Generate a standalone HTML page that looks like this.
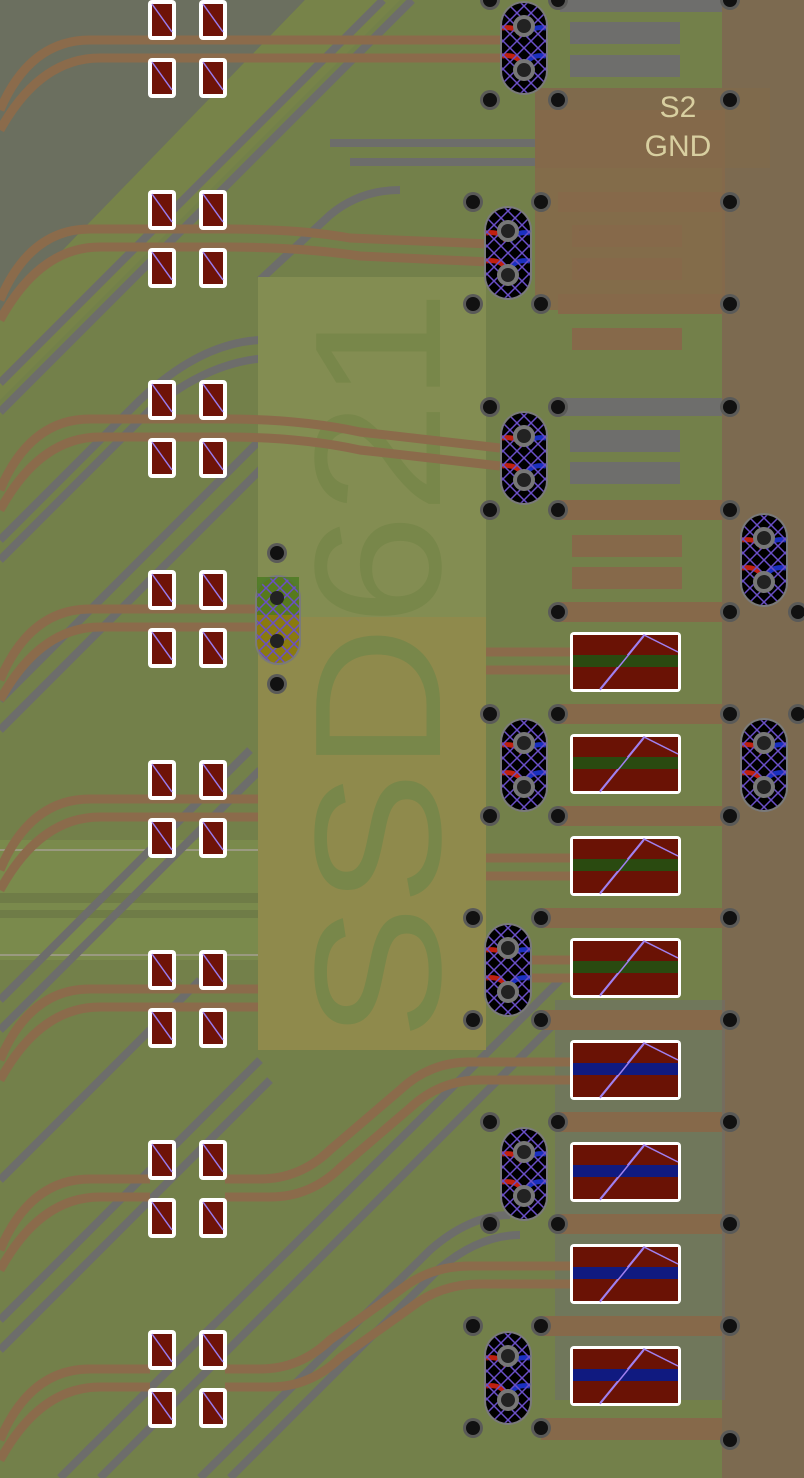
<!DOCTYPE html>
<html><head><meta charset="utf-8"><style>
html,body{margin:0;padding:0;background:#73804a;}
svg{display:block}
</style></head><body>
<svg width="804" height="1478" viewBox="0 0 804 1478" xmlns="http://www.w3.org/2000/svg">
<defs>
<pattern id="hatch" width="14" height="14" patternUnits="userSpaceOnUse">
<path d="M0 0L14 14M14 0L0 14" stroke="#6a4fc8" stroke-width="1.5"/>
</pattern>
<g id="sp">
<rect x="-14" y="-20" width="28" height="40" rx="4" fill="#fff"/>
<rect x="-10" y="-16" width="20" height="32" fill="#6e1308"/>
<path d="M-10 -16L10 12" stroke="#9a7cf0" stroke-width="1.5"/>
</g>
<g id="v"><circle r="10" fill="#5a5a58"/><circle r="7" fill="#111"/></g>
<g id="ov">
<rect x="-24" y="-47" width="48" height="94" rx="24" fill="#7a7a7a"/>
<rect x="-22" y="-45" width="44" height="90" rx="22" fill="#000"/>
<path d="M-22 -20q15 -2 20 8M-22 8q15 -2 20 8" stroke="#c02010" stroke-width="5" fill="none"/>
<path d="M22 -20q-15 -2 -20 8M22 8q-15 -2 -20 8" stroke="#1a30c0" stroke-width="5" fill="none"/>
<rect x="-22" y="-45" width="44" height="90" rx="22" fill="url(#hatch)"/>
<circle cy="-22" r="11" fill="#777"/><circle cy="-22" r="7" fill="#222"/>
<circle cy="22" r="11" fill="#777"/><circle cy="22" r="7" fill="#222"/>
</g>
<g id="bp">
<rect x="0" y="0" width="111" height="60" rx="4" fill="#fff"/>
<rect x="3" y="3" width="105" height="54" fill="#6a1205"/>
<path d="M30 57L74 3L108 20" stroke="#a080f0" stroke-width="1.5" fill="none"/>
</g>
</defs>

<rect width="804" height="1478" fill="#73804a"/>
<polygon points="0,0 305,0 0,315" fill="#6b6f5f"/>
<polygon points="305,0 400,0 0,400 0,315" fill="#778349"/>
<rect x="0" y="840" width="258" height="120" fill="#7a8a4c"/>
<rect x="0" y="893" width="258" height="10" fill="#6f7c47"/>
<rect x="0" y="910" width="258" height="8" fill="#6f7c47"/>
<line x1="0" y1="850" x2="258" y2="850" stroke="#9a9a80" stroke-width="2"/>
<line x1="0" y1="955" x2="258" y2="955" stroke="#9a9a80" stroke-width="2"/>

<g stroke="#6d6d6b" stroke-width="8" fill="none">
<path d="M383 0L0 383"/><path d="M412 0L0 412"/>
<path d="M0 540L140 400Q200 343 260 340L340 340"/>
<path d="M0 560L150 410Q210 360 270 358"/>
<path d="M0 700L300 400Q330 370 360 360"/>
<path d="M0 730L280 450"/>
<path d="M330 143Q380 143 420 143L540 143"/><path d="M350 162L540 162"/>
<path d="M260 280L330 215Q360 190 400 190"/>
<path d="M0 1000L250 750"/><path d="M0 1030L260 770"/>
<path d="M60 1478L560 980"/><path d="M100 1478L560 1018"/>
<path d="M0 1320L260 1060"/><path d="M0 1350L270 1080"/>
<path d="M200 1478L430 1250Q470 1215 510 1215"/><path d="M230 1478L440 1268Q480 1235 520 1235"/>
<path d="M0 1180L200 980"/>
</g>

<rect x="258" y="277" width="228" height="340" fill="#838d52"/>
<rect x="258" y="617" width="228" height="433" fill="#8f8a4c"/>
<text transform="translate(440,1040) rotate(-90)" font-family="Liberation Sans, sans-serif" font-size="180" textLength="750" lengthAdjust="spacingAndGlyphs" fill="#78874a">SSD621</text>

<rect x="722" y="0" width="82" height="1478" fill="#7c6a50"/>
<rect x="535" y="88" width="235" height="80" fill="#7f6a4c"/>
<rect x="535" y="110" width="190" height="200" fill="#85694a" opacity="0.9"/>
<g fill="#6e6e6c">
<rect x="560" y="0" width="162" height="12"/>
<rect x="570" y="22" width="110" height="22"/><rect x="570" y="55" width="110" height="22"/>
<rect x="570" y="430" width="110" height="22"/><rect x="570" y="462" width="110" height="22"/>
<rect x="558" y="398" width="164" height="18"/>
<rect x="555" y="1000" width="170" height="400" opacity="0.5"/>
</g>
<g fill="#86694a">
<rect x="558" y="192" width="164" height="20"/><rect x="558" y="294" width="164" height="20"/>
<rect x="572" y="225" width="110" height="22"/><rect x="572" y="258" width="110" height="22"/>
<rect x="572" y="328" width="110" height="22"/>
<rect x="558" y="500" width="164" height="20"/>
<rect x="572" y="535" width="110" height="22"/><rect x="572" y="567" width="110" height="22"/>
<rect x="558" y="602" width="164" height="20"/><rect x="558" y="704" width="164" height="20"/>
<rect x="558" y="806" width="164" height="20"/><rect x="541" y="908" width="181" height="20"/>
<rect x="541" y="1010" width="181" height="20"/><rect x="558" y="1112" width="164" height="20"/>
<rect x="558" y="1214" width="164" height="20"/><rect x="541" y="1316" width="181" height="20"/>
<rect x="541" y="1418" width="181" height="22"/>
</g>
<text x="678" y="117" font-family="Liberation Sans, sans-serif" font-size="30" fill="#d8cfa0" text-anchor="middle">S2</text>
<text x="678" y="156" font-family="Liberation Sans, sans-serif" font-size="30" fill="#d8cfa0" text-anchor="middle">GND</text>

<g stroke="#8b6b4b" stroke-width="9" fill="none">
<path d="M0 110Q30 40 90 40L500 40"/><path d="M0 130Q40 58 100 58L500 58"/>
<path d="M0 300Q30 229 90 229L225 229Q300 229 350 238L490 244"/><path d="M0 320Q40 247 100 247L225 247Q300 247 360 256L490 262"/>
<path d="M0 490Q30 419 90 419L225 419Q300 419 360 432L500 448"/><path d="M0 510Q40 437 100 437L225 437Q300 437 360 450L500 466"/>
<path d="M0 680Q30 609 90 609L265 609"/><path d="M0 700Q40 627 100 627L265 627"/>
<path d="M0 870Q30 799 90 799L258 799"/><path d="M0 890Q40 817 100 817L258 817"/>
<path d="M0 1060Q30 989 90 989L258 989"/><path d="M0 1080Q40 1007 100 1007L258 1007"/>
<path d="M0 1250Q30 1179 90 1179L150 1179"/><path d="M0 1270Q40 1197 100 1197L150 1197"/>
<path d="M225 1179L260 1179Q300 1179 330 1150L400 1090Q430 1062 470 1062L572 1062"/>
<path d="M225 1197L270 1197Q310 1197 340 1168L410 1108Q440 1080 480 1080L572 1080"/>
<path d="M0 1440Q30 1369 90 1369L150 1369"/><path d="M0 1460Q40 1387 100 1387L150 1387"/>
<path d="M225 1369L260 1369Q300 1369 330 1340L400 1290Q430 1266 470 1266L572 1266"/>
<path d="M225 1387L270 1387Q310 1387 340 1358L410 1308Q440 1284 480 1284L572 1284"/>
<path d="M486 652L572 652"/><path d="M486 670L572 670"/>
<path d="M486 858L572 858"/><path d="M486 876L572 876"/>
<path d="M486 960L572 960"/><path d="M486 978L572 978"/>
</g>

<g>
<use href="#sp" x="162" y="20"/><use href="#sp" x="213" y="20"/><use href="#sp" x="162" y="78"/><use href="#sp" x="213" y="78"/>
<use href="#sp" x="162" y="210"/><use href="#sp" x="213" y="210"/><use href="#sp" x="162" y="268"/><use href="#sp" x="213" y="268"/>
<use href="#sp" x="162" y="400"/><use href="#sp" x="213" y="400"/><use href="#sp" x="162" y="458"/><use href="#sp" x="213" y="458"/>
<use href="#sp" x="162" y="590"/><use href="#sp" x="213" y="590"/><use href="#sp" x="162" y="648"/><use href="#sp" x="213" y="648"/>
<use href="#sp" x="162" y="780"/><use href="#sp" x="213" y="780"/><use href="#sp" x="162" y="838"/><use href="#sp" x="213" y="838"/>
<use href="#sp" x="162" y="970"/><use href="#sp" x="213" y="970"/><use href="#sp" x="162" y="1028"/><use href="#sp" x="213" y="1028"/>
<use href="#sp" x="162" y="1160"/><use href="#sp" x="213" y="1160"/><use href="#sp" x="162" y="1218"/><use href="#sp" x="213" y="1218"/>
<use href="#sp" x="162" y="1350"/><use href="#sp" x="213" y="1350"/><use href="#sp" x="162" y="1408"/><use href="#sp" x="213" y="1408"/>
</g>

<g>
<use href="#bp" x="570" y="632"/><use href="#bp" x="570" y="734"/><use href="#bp" x="570" y="836"/><use href="#bp" x="570" y="938"/>
<use href="#bp" x="570" y="1040"/><use href="#bp" x="570" y="1142"/><use href="#bp" x="570" y="1244"/><use href="#bp" x="570" y="1346"/>
</g>
<g fill="#2a4a10"><rect x="573" y="655" width="105" height="12"/><rect x="573" y="757" width="105" height="12"/><rect x="573" y="859" width="105" height="12"/><rect x="573" y="961" width="105" height="12"/></g>
<g fill="#101a80"><rect x="573" y="1063" width="105" height="12"/><rect x="573" y="1165" width="105" height="12"/><rect x="573" y="1267" width="105" height="12"/><rect x="573" y="1369" width="105" height="12"/></g>
<g stroke="#a080f0" stroke-width="1.5"><path d="M600 690L644 636"/><path d="M600 792L644 738"/><path d="M600 894L644 840"/><path d="M600 996L644 942"/><path d="M600 1098L644 1044"/><path d="M600 1200L644 1146"/><path d="M600 1302L644 1248"/><path d="M600 1404L644 1350"/></g>

<use href="#ov" x="524" y="48"/><use href="#ov" x="508" y="253"/><use href="#ov" x="524" y="458"/>
<use href="#ov" x="524" y="765"/><use href="#ov" x="508" y="970"/><use href="#ov" x="524" y="1174"/>
<use href="#ov" x="508" y="1378"/><use href="#ov" x="764" y="560"/><use href="#ov" x="764" y="765"/>
<g>
<rect x="255" y="575" width="46" height="90" rx="23" fill="#7a7a7a"/>
<rect x="257" y="577" width="42" height="86" rx="21" fill="#8a7a10"/>
<path d="M257 577h42v38h-42z" fill="#4a7a20" opacity="0.8"/>
<rect x="257" y="577" width="42" height="86" rx="21" fill="url(#hatch)"/>
<circle cx="277" cy="598" r="7" fill="#222"/><circle cx="277" cy="641" r="7" fill="#222"/>
</g>

<g>
<use href="#v" x="490" y="0"/><use href="#v" x="558" y="0"/><use href="#v" x="730" y="0"/>
<use href="#v" x="490" y="100"/><use href="#v" x="558" y="100"/><use href="#v" x="730" y="100"/>
<use href="#v" x="473" y="202"/><use href="#v" x="541" y="202"/><use href="#v" x="730" y="202"/>
<use href="#v" x="473" y="304"/><use href="#v" x="541" y="304"/><use href="#v" x="730" y="304"/>
<use href="#v" x="490" y="407"/><use href="#v" x="558" y="407"/><use href="#v" x="730" y="407"/>
<use href="#v" x="490" y="510"/><use href="#v" x="558" y="510"/><use href="#v" x="730" y="510"/>
<use href="#v" x="558" y="612"/><use href="#v" x="730" y="612"/><use href="#v" x="798" y="612"/>
<use href="#v" x="490" y="714"/><use href="#v" x="558" y="714"/><use href="#v" x="730" y="714"/><use href="#v" x="798" y="714"/>
<use href="#v" x="490" y="816"/><use href="#v" x="558" y="816"/><use href="#v" x="730" y="816"/>
<use href="#v" x="473" y="918"/><use href="#v" x="541" y="918"/><use href="#v" x="730" y="918"/>
<use href="#v" x="473" y="1020"/><use href="#v" x="541" y="1020"/><use href="#v" x="730" y="1020"/>
<use href="#v" x="490" y="1122"/><use href="#v" x="558" y="1122"/><use href="#v" x="730" y="1122"/>
<use href="#v" x="490" y="1224"/><use href="#v" x="558" y="1224"/><use href="#v" x="730" y="1224"/>
<use href="#v" x="473" y="1326"/><use href="#v" x="541" y="1326"/><use href="#v" x="730" y="1326"/>
<use href="#v" x="473" y="1428"/><use href="#v" x="541" y="1428"/><use href="#v" x="730" y="1440"/>
<use href="#v" x="277" y="553"/><use href="#v" x="277" y="684"/>
</g>
</svg>
</body></html>
